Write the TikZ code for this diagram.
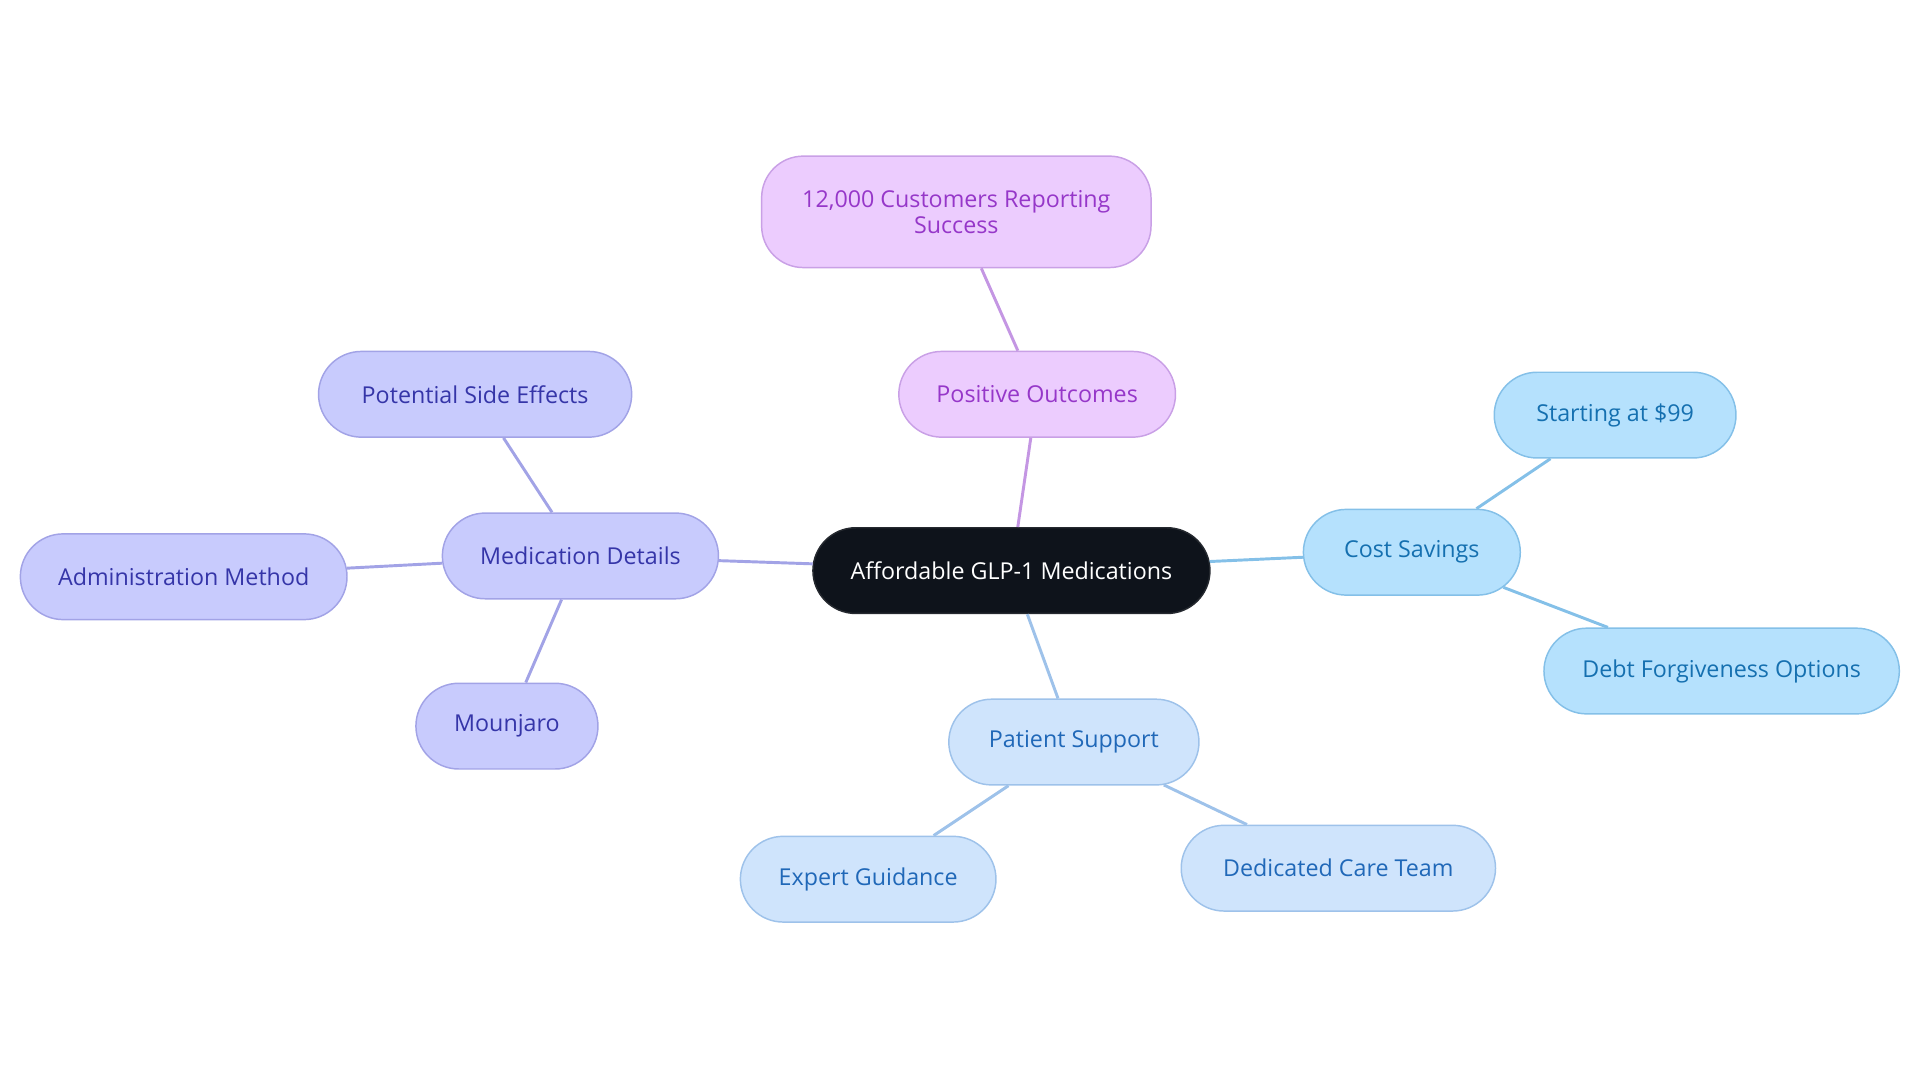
\documentclass[tikz,border=0pt]{standalone}
\usepackage{fontspec}
\setmainfont{Open Sans}
\usetikzlibrary{shapes.misc}
\definecolor{rootfill}{HTML}{0E131B}
\definecolor{posfill}{HTML}{ECCCFE}
\definecolor{posdraw}{HTML}{C9A0E6}
\definecolor{postext}{HTML}{9637C9}
\definecolor{medfill}{HTML}{C8CBFD}
\definecolor{meddraw}{HTML}{A2A3E6}
\definecolor{medtext}{HTML}{3535A8}
\definecolor{costfill}{HTML}{B5E1FD}
\definecolor{costdraw}{HTML}{84C0E8}
\definecolor{costtext}{HTML}{1570B0}
\definecolor{patfill}{HTML}{CFE4FC}
\definecolor{patdraw}{HTML}{9EC2EA}
\definecolor{pattext}{HTML}{2068B8}
\begin{document}
\begin{tikzpicture}[x=0.5pt,y=-0.5pt,
	box/.style={rounded rectangle,minimum height=35pt,inner xsep=15pt,line width=0.6pt,font=\fontsize{9.5}{10.5}\selectfont,align=center},
	rootbox/.style={box,fill=rootfill,draw=rootfill!80!gray,text=white},
	posbox/.style={box,fill=posfill,draw=posdraw,text=postext},
	medbox/.style={box,fill=medfill,draw=meddraw,text=medtext},
	costbox/.style={box,fill=costfill,draw=costdraw,text=costtext},
	patbox/.style={box,fill=patfill,draw=patdraw,text=pattext},
	link/.style={line width=1.2pt}]
	\useasboundingbox (0,0) rectangle (1568,884);
	\node[rootbox] (root) at (826,466) {Affordable GLP-1 Medications};
	\node[posbox] (outcomes) at (847,322) {Positive Outcomes};
	\node[posbox,rectangle,rounded corners=17pt,minimum height=45.5pt,minimum width=159pt] (customers) at (781,173) {12,000 Customers Reporting\\Success};
	\node[medbox] (meddetails) at (474,454) {Medication Details};
	\node[medbox,inner xsep=17.25pt] (sideeffects) at (388,322) {Potential Side Effects};
	\node[medbox] (admin) at (150,471) {Administration Method};
	\node[medbox] (mounjaro) at (414,593) {Mounjaro};
	\node[costbox,inner xsep=16pt] (savings) at (1153,451) {Cost Savings};
	\node[costbox,inner xsep=16.5pt] (start) at (1319,339) {Starting at \$99};
	\node[costbox] (debt) at (1406,548) {Debt Forgiveness Options};
	\node[patbox,inner xsep=15.75pt] (support) at (877,606) {Patient Support};
	\node[patbox] (expert) at (709,718) {Expert Guidance};
	\node[patbox,inner xsep=16.75pt] (careteam) at (1093,709) {Dedicated Care Team};
	\draw[link,color=posdraw!90!postext] (root) -- (outcomes);
	\draw[link,color=posdraw!90!postext] (outcomes) -- (customers);
	\draw[link,color=meddraw] (root) -- (meddetails);
	\draw[link,color=meddraw] (meddetails) -- (sideeffects);
	\draw[link,color=meddraw] (meddetails) -- (admin);
	\draw[link,color=meddraw] (meddetails) -- (mounjaro);
	\draw[link,color=costdraw] (root) -- (savings);
	\draw[link,color=costdraw] (savings) -- (start);
	\draw[link,color=costdraw] (savings) -- (debt);
	\draw[link,color=patdraw] (root) -- (support);
	\draw[link,color=patdraw] (support) -- (expert);
	\draw[link,color=patdraw] (support) -- (careteam);
\end{tikzpicture}
\end{document}
